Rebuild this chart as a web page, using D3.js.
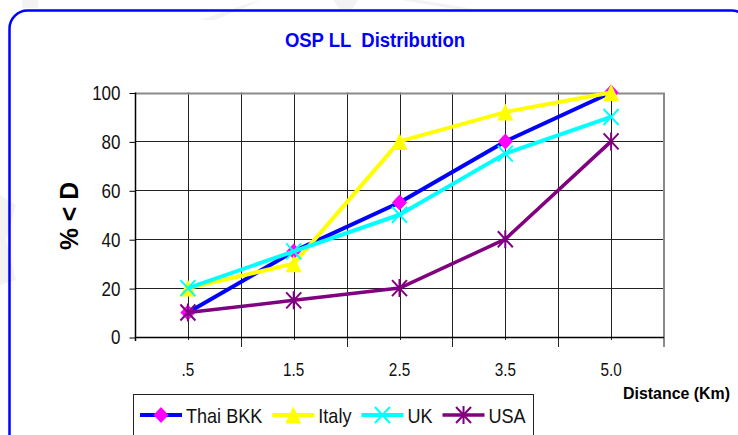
<!DOCTYPE html>
<html><head><meta charset="utf-8">
<script src="https://cdn.jsdelivr.net/npm/d3@7"></script>
<style>body{margin:0;background:#fff} svg{display:block} text{font-family:"Liberation Sans",Arial,sans-serif;white-space:pre}</style>
</head><body><svg id="c" width="738" height="435"></svg>
<script>
// ---- data ----
const categories = [".5", "1.5", "2.5", "3.5", "5.0"];
const seriesNames = ["Thai BKK", "Italy", "UK", "USA"];
const thaiBKK = [10, 35, 55, 80, 100];
const italy   = [20, 30, 80, 92, 100];
const uk      = [20, 35, 50, 75, 90];
const usa     = [10, 15, 20, 40, 80];
const yTicks  = [0, 20, 40, 60, 80, 100];
const chartTitle = "OSP LL  Distribution";
const yTitle = "% < D";
const xTitle = "Distance (Km)";

// ---- styles ----
const styles = [
  {line: "#0000ff", marker: "diamond", mcolor: "#ff00ff", lw: 4},
  {line: "#ffff00", marker: "triangle", mcolor: "#ffff00", lw: 4},
  {line: "#00ffff", marker: "x", mcolor: "#00ffff", lw: 4},
  {line: "#800080", marker: "star", mcolor: "#800080", lw: 3.5}
];
const seriesValues = [thaiBKK, italy, uk, usa];
const series = seriesNames.map((n, i) => ({name: n, values: seriesValues[i], style: styles[i]}));

const svg = d3.select("#c");
svg.append("rect").attr("width", 738).attr("height", 435).attr("fill", "#fff");

// faint watermark fragments
const wm = svg.append("g").attr("fill", "#f3f3f3");
[
  [[22,0],[38,0],[38,8],[22,8]],
  [[200,20],[250,3],[262,0],[215,20]],
  [[333,0],[358,0],[352,10],[340,10]],
  [[401,0],[420,0],[480,10],[460,10]],
  [[0,195],[16,205],[6,240],[16,280],[0,285]]
].forEach(p => wm.append("path").attr("d", d3.line()(p) + "Z"));

// outer rounded frame
svg.append("rect").attr("x", 9.5).attr("y", 10.5).attr("width", 740).attr("height", 460)
  .attr("rx", 18).attr("fill", "none").attr("stroke", "#0000ff").attr("stroke-width", 2.5);

function squeeze(sel, f) {
  sel.each(function () {
    const L = this.getComputedTextLength();
    d3.select(this).attr("textLength", L * f).attr("lengthAdjust", "spacingAndGlyphs");
  });
}

// scales
const pL = 135, pR = 664, pT = 92.5, pB = 337;
const x = d3.scaleBand().domain(categories).range([pL, pR]);
const y = d3.scaleLinear().domain([0, 100]).range([pB, pT]);
const cx = c => x(c) + x.bandwidth() / 2;
const crisp = v => Math.round(v) + 0.5;

const grid = svg.append("g").attr("stroke", "#222").attr("stroke-width", 1);
yTicks.filter(v => v > 0 && v < 100).forEach(v => {
  grid.append("line").attr("x1", pL).attr("x2", pR).attr("y1", crisp(y(v))).attr("y2", crisp(y(v)));
});
categories.forEach((c, i) => {
  grid.append("line").attr("x1", crisp(cx(c))).attr("x2", crisp(cx(c))).attr("y1", pT).attr("y2", pB + 3);
  if (i < categories.length - 1) {
    const bx = crisp(x(c) + x.bandwidth());
    grid.append("line").attr("x1", bx).attr("x2", bx).attr("y1", pT).attr("y2", pB + 10);
  }
});
// top/right border (gray)
svg.append("path").attr("d", `M${pL},${crisp(pT)}H${pR}V${pB + 10}`)
  .attr("fill", "none").attr("stroke", "#8a8a8a").attr("stroke-width", 2);

// axes lines
svg.append("line").attr("x1", pL).attr("x2", pR).attr("y1", crisp(pB)).attr("y2", crisp(pB))
  .attr("stroke", "#000").attr("stroke-width", 1.5);
svg.append("line").attr("x1", crisp(pL)).attr("x2", crisp(pL)).attr("y1", pT).attr("y2", pB + 4)
  .attr("stroke", "#000").attr("stroke-width", 1.5);

// y axis
const ya = svg.append("g").attr("transform", `translate(${crisp(pL)},0.5)`)
  .call(d3.axisLeft(y).tickValues(yTicks).tickSize(6).tickPadding(9).tickFormat(d3.format("d")));
ya.select(".domain").remove();
ya.selectAll("line").attr("stroke", "#000");
ya.selectAll("text").attr("font-size", 20).attr("fill", "#111").attr("font-family", "Liberation Sans, Arial, sans-serif");
squeeze(ya.selectAll("text"), 0.85);

// x axis labels
const xa = svg.append("g").attr("transform", `translate(0,${pB})`)
  .call(d3.axisBottom(x).tickSize(0));
xa.select(".domain").remove();
xa.selectAll("text").attr("y", 38.5).attr("dy", 0).attr("font-size", 18).attr("fill", "#111")
  .attr("font-family", "Liberation Sans, Arial, sans-serif");
squeeze(xa.selectAll("text"), 0.85);

// titles
const t = svg.append("text").attr("x", 375).attr("y", 47).attr("text-anchor", "middle")
  .attr("font-weight", "bold").attr("font-size", 20).attr("fill", "#0000ff").text(chartTitle);
squeeze(t, 0.925);
const yt = svg.append("text").attr("transform", "translate(78,216) rotate(-90)").attr("text-anchor", "middle")
  .attr("font-weight", "bold").attr("font-size", 26).attr("fill", "#000").text(yTitle);
squeeze(yt, 0.95);
const xt = svg.append("text").attr("x", 623).attr("y", 398.5)
  .attr("font-weight", "bold").attr("font-size", 17).attr("fill", "#000").text(xTitle)
  .attr("textLength", 107).attr("lengthAdjust", "spacingAndGlyphs");

// markers
function marker(g, type, color, px, py) {
  if (type === "diamond") {
    g.append("path").attr("d", `M${px},${py - 8}L${px + 7.5},${py}L${px},${py + 8}L${px - 7.5},${py}Z`).attr("fill", color);
  } else if (type === "triangle") {
    g.append("path").attr("d", `M${px},${py - 8.5}L${px + 8},${py + 8.5}L${px - 8},${py + 8.5}Z`).attr("fill", color);
  } else if (type === "x") {
    g.append("path").attr("d", `M${px - 7.5},${py - 8}L${px + 7.5},${py + 8}M${px + 7.5},${py - 8}L${px - 7.5},${py + 8}`)
      .attr("stroke", color).attr("stroke-width", 2).attr("fill", "none");
  } else {
    g.append("path").attr("d", `M${px - 7.5},${py - 8}L${px + 7.5},${py + 8}M${px + 7.5},${py - 8}L${px - 7.5},${py + 8}M${px},${py - 9}V${py + 9}`)
      .attr("stroke", color).attr("stroke-width", 2).attr("fill", "none");
  }
}

const line = d3.line().x((d, i) => cx(categories[i])).y(d => y(d));
series.forEach(s => {
  const g = svg.append("g");
  g.append("path").attr("d", line(s.values)).attr("fill", "none")
    .attr("stroke", s.style.line).attr("stroke-width", s.style.lw).attr("stroke-linejoin", "round");
  s.values.forEach((v, i) => marker(g, s.style.marker, s.style.mcolor, cx(categories[i]), y(v)));
});

// legend
svg.append("rect").attr("x", 133.5).attr("y", 394.5).attr("width", 400).attr("height", 60)
  .attr("fill", "#fff").attr("stroke", "#222").attr("stroke-width", 1);
let lx = 140;
const ly = 415;
series.forEach(s => {
  const g = svg.append("g");
  g.append("line").attr("x1", lx).attr("x2", lx + 42).attr("y1", ly).attr("y2", ly)
    .attr("stroke", s.style.line).attr("stroke-width", s.style.lw);
  marker(g, s.style.marker, s.style.mcolor, lx + 21, ly);
  const tx = g.append("text").attr("x", lx + 46).attr("y", ly + 7.5).attr("font-size", 21).attr("fill", "#111").text(s.name);
  squeeze(tx, 0.86);
  lx = lx + 46 + tx.node().getComputedTextLength() + 10;
});
</script></body></html>
